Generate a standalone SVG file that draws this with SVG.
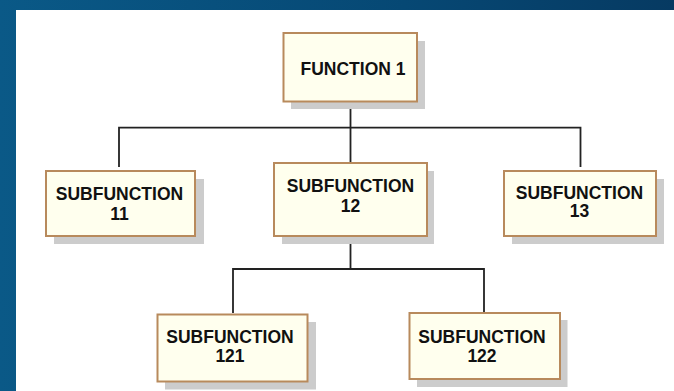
<svg xmlns="http://www.w3.org/2000/svg" width="674" height="391" viewBox="0 0 674 391">
<defs>
<linearGradient id="bg" x1="0" y1="0" x2="1" y2="0">
<stop offset="0" stop-color="#0a5987"/>
<stop offset="0.6" stop-color="#064874"/>
<stop offset="1" stop-color="#063a62"/>
</linearGradient>
</defs>
<style>
.box{fill:#ffffee;stroke:#b88a5c;stroke-width:2}
.sh{fill:#cccccc}
.t{font-family:"Liberation Sans",Arial,sans-serif;font-weight:bold;font-size:17.5px;fill:#111111;text-anchor:middle}
.c{fill:none;stroke:#222222;stroke-width:1.8}
</style>
<rect x="0" y="0" width="674" height="391" fill="url(#bg)"/>
<rect x="16" y="10" width="658" height="381" fill="#ffffff"/>
<g id="connectors">
<path class="c" d="M350.5 101.7V127.7M119 167V127.7H580.5V167M350.5 127.7V163"/>
<path class="c" d="M350.5 236V269M233 313V269H484V312"/>
</g>
<g id="function1">
<rect class="sh" x="291" y="41" width="134" height="68"/>
<rect class="box" x="283.5" y="33" width="133.5" height="68.5"/>
<text class="t" x="353" y="75">FUNCTION 1</text>
</g>
<g id="subfunction11">
<rect class="sh" x="54" y="179" width="150" height="65"/>
<rect class="box" x="46" y="171" width="149" height="65"/>
<text class="t" x="119.5" y="199.5">SUBFUNCTION</text>
<text class="t" x="119.5" y="219.5">11</text>
</g>
<g id="subfunction12">
<rect class="sh" x="282" y="171" width="152" height="73"/>
<rect class="box" x="274" y="163" width="153" height="73"/>
<text class="t" x="350.5" y="192">SUBFUNCTION</text>
<text class="t" x="350.5" y="212">12</text>
</g>
<g id="subfunction13">
<rect class="sh" x="512" y="179" width="152" height="65"/>
<rect class="box" x="504" y="171" width="152" height="65"/>
<text class="t" x="579.5" y="198.5">SUBFUNCTION</text>
<text class="t" x="579.5" y="217">13</text>
</g>
<g id="subfunction121">
<rect class="sh" x="165" y="322" width="151" height="67.5"/>
<rect class="box" x="157.5" y="314.5" width="150" height="67"/>
<text class="t" x="230" y="342.5">SUBFUNCTION</text>
<text class="t" x="230" y="362">121</text>
</g>
<g id="subfunction122">
<rect class="sh" x="417" y="320" width="150.5" height="67"/>
<rect class="box" x="409.5" y="313" width="150.5" height="66"/>
<text class="t" x="482" y="342.5">SUBFUNCTION</text>
<text class="t" x="482" y="362">122</text>
</g>
</svg>
